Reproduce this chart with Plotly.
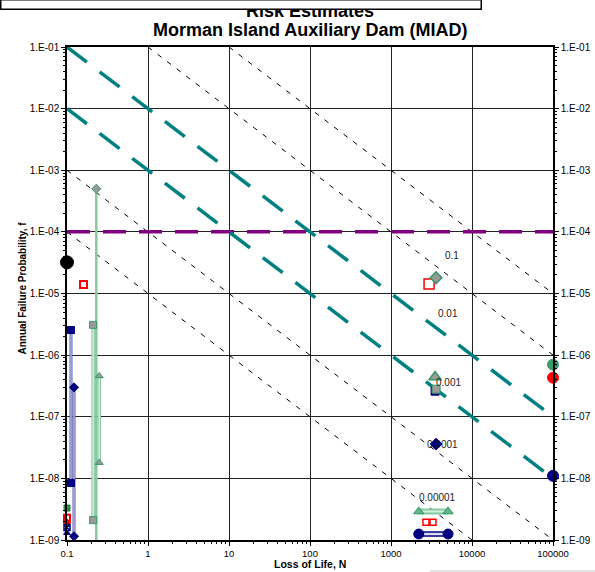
import math
import plotly.graph_objects as go

# ---------------- data ----------------
tick_vals_y = [1e-1, 1e-2, 1e-3, 1e-4, 1e-5, 1e-6, 1e-7, 1e-8, 1e-9]
tick_text_y = ["1.E-01", "1.E-02", "1.E-03", "1.E-04", "1.E-05", "1.E-06", "1.E-07", "1.E-08", "1.E-09"]
tick_vals_x = [0.1, 1, 10, 100, 1000, 10000, 100000]
tick_text_x = ["0.1", "1", "10", "100", "1000", "10000", "100000"]

# reference lines f*N = const
teal_products = [1e-2, 1e-3]
thin_products = [1.0, 0.1, 1e-4, 1e-5]
tolerable_f = 1e-4

# labels on lines
line_label_text = ["0.1", "0.01", "0.001", "0.0001", "0.00001"]
line_label_N = [5660, 5060, 5060, 4270, 3800]
line_label_f = [4.1e-5, 4.8e-6, 3.6e-7, 3.6e-8, 4.95e-9]

# left side ranges
navy_sq_N = [0.112, 0.112]
navy_sq_f = [2.55e-6, 8.4e-9]
navy_di_N = [0.122, 0.122]
navy_di_f = [3.0e-7, 1.15e-9]
green_sq_N = [0.21, 0.21]
green_sq_f = [3.1e-6, 2.1e-9]
green_tri_N = [0.25, 0.25]
green_tri_f = [4.6e-7, 1.8e-8]
green_long_N = [0.23, 0.23]
green_long_f = [5.0e-4, 8.0e-10]

black_N = [0.1]
black_f = [3.2e-5]
red_left_N = [0.16]
red_left_f = [1.4e-5]

small_green_N = [0.1]
small_green_f = [3.3e-9]
small_red_N = [0.1, 0.1]
small_red_f = [2.3e-9, 1.9e-9]
small_navy_N = [0.1, 0.1]
small_navy_f = [1.6e-9, 1.3e-9]

# middle cluster
mid_red_N = [2950]
mid_red_f = [1.42e-5]
mid_green_di_N = [3600]
mid_green_di_f = [1.8e-5]
mid_green_tri_N = [3500]
mid_green_tri_f = [4.4e-7]
mid_gray_sq_N = [3600]
mid_gray_sq_f = [2.8e-7]
mid_navy_sq_N = [3500]
mid_navy_sq_f = [2.6e-7]
mid_navy_di_N = [3600]
mid_navy_di_f = [3.6e-8]
bar_green_N = [2200, 5060]
bar_green_f = [2.9e-9, 2.9e-9]
bar_red_N = [2700, 3300]
bar_red_f = [1.95e-9, 1.95e-9]
bar_navy_N = [2200, 5060]
bar_navy_f = [1.25e-9, 1.25e-9]

# right side
right_N = [100000, 100000, 100000]
right_f = [7.0e-7, 4.3e-7, 1.1e-8]
right_colors = ["#3c9a6a", "#ff0000", "#000080"]

# ---------------- figure ----------------
FONT = "Liberation Sans, Arial, sans-serif"
NAVY = "#000080"
GREEN_D = "#339966"
GREEN_L = "#86c9a4"
GRAY = "#9a9a9a"
RED = "#ff0000"

fig = go.Figure()
Nmin, Nmax, fmin, fmax = 0.1, 1e5, 1e-9, 1e-1


def ref_line(C, color, width, dash):
    n0 = max(Nmin, C / fmax)
    n1 = min(Nmax, C / fmin)
    fig.add_trace(go.Scatter(x=[n0, n1], y=[C / n0, C / n1], mode="lines",
                             line=dict(color=color, width=width, dash=dash),
                             hoverinfo="skip", showlegend=False))


for C in thin_products:
    ref_line(C, "black", 1, "5px,7px")

fig.add_trace(go.Scatter(x=[Nmin, Nmax], y=[tolerable_f, tolerable_f], mode="lines",
                         line=dict(color="#800080", width=3.5, dash="23px,13px"),
                         hoverinfo="skip", showlegend=False))

for C in teal_products:
    ref_line(C, "#008080", 3.5, "25px,16px")


def bar(xs, ys, color, width, inner="white", inner_w=1):
    fig.add_trace(go.Scatter(x=xs, y=ys, mode="lines", line=dict(color=color, width=width),
                             hoverinfo="skip", showlegend=False))
    fig.add_trace(go.Scatter(x=xs, y=ys, mode="lines", line=dict(color=inner, width=inner_w),
                             hoverinfo="skip", showlegend=False))


def pts(xs, ys, symbol, size, fill, line_color, line_w=1, clip=False):
    fig.add_trace(go.Scatter(x=xs, y=ys, mode="markers", cliponaxis=clip,
                             marker=dict(symbol=symbol, size=size, color=fill,
                                         line=dict(color=line_color, width=line_w)),
                             showlegend=False))


# left ranges
bar(green_long_N, green_long_f, GREEN_L, 2.5, GREEN_L, 0.1)
bar(navy_sq_N, navy_sq_f, "#5a5ab0", 3, "#dcdcf4", 1)
bar(navy_di_N, navy_di_f, "#5a5ab0", 3, "#dcdcf4", 1)
bar(green_sq_N, green_sq_f, GREEN_L, 3.5, "#e6f5ec", 1.2)
bar(green_tri_N, green_tri_f, GREEN_L, 3.5, "#e6f5ec", 1.2)

pts(navy_sq_N, navy_sq_f, "square", 7, NAVY, NAVY)
pts(navy_di_N, navy_di_f, "diamond", 7, NAVY, NAVY)
pts(green_sq_N, green_sq_f, "square", 7, GRAY, GREEN_D)
pts(green_tri_N, green_tri_f, "triangle-up", 7, GRAY, GREEN_D)
pts([green_long_N[0]], [green_long_f[0]], "diamond", 7, GRAY, GREEN_D)

pts(black_N, black_f, "circle", 13, "black", "black")
pts(red_left_N, red_left_f, "square-open", 7, RED, RED, 2)

pts(small_green_N, small_green_f, "square-x", 6, "#2e9a4e", "#1e7a3e")
pts(small_red_N[:1], small_red_f[:1], "square-open", 6, RED, RED, 2)
pts(small_red_N[1:], small_red_f[1:], "diamond", 6, RED, RED)
pts(small_navy_N[:1], small_navy_f[:1], "square-x-open", 6, NAVY, NAVY, 1.5)
pts(small_navy_N[1:], small_navy_f[1:], "triangle-up", 6, NAVY, NAVY)

# middle cluster
pts(mid_red_N, mid_red_f, "square-open", 10, RED, RED, 1.5)
pts(mid_green_di_N, mid_green_di_f, "diamond", 9, GRAY, GREEN_D, 1.5)
pts(mid_navy_sq_N, mid_navy_sq_f, "square", 8, NAVY, NAVY)
pts(mid_gray_sq_N, mid_gray_sq_f, "square", 8, GRAY, GREEN_D)
pts(mid_green_tri_N, mid_green_tri_f, "triangle-up", 11, GRAY, GREEN_D, 1.5)
pts(mid_navy_di_N, mid_navy_di_f, "diamond", 9, NAVY, NAVY)

bar(bar_green_N, bar_green_f, GREEN_L, 6, "#cfeedd", 2)
pts(bar_green_N, bar_green_f, "triangle-up", 9, "#5fb488", GREEN_D)
pts(bar_red_N, bar_red_f, "square-open", 6, RED, RED, 1.5)
bar(bar_navy_N, bar_navy_f, "#3a3a9a", 6, "#dcdcf8", 2)
pts(bar_navy_N, bar_navy_f, "circle", 10, NAVY, NAVY)

# right side
for xx, yy, c in zip(right_N, right_f, right_colors):
    pts([xx], [yy], "circle", 11, c, c)

# line labels (annotation coordinates on log axes are log10 values)
for t, xx, yy in zip(line_label_text, line_label_N, line_label_f):
    fig.add_annotation(x=math.log10(xx), y=math.log10(yy), xref="x", yref="y", text=t,
                       showarrow=False, font=dict(family=FONT, size=10, color="#222"))

# dummy for right axis
fig.add_trace(go.Scatter(x=[1], y=[1e-5], yaxis="y2", mode="markers",
                         marker=dict(opacity=0), hoverinfo="skip", showlegend=False))

yfont = dict(family=FONT, size=10, color="black")
xfont = dict(family=FONT, size=9.5, color="black")
minor = dict(ticks="outside", ticklen=2, tickcolor="black", dtick="D1", showgrid=False)

fig.update_layout(
    width=595, height=572,
    margin=dict(l=67, r=42, t=47, b=32, autoexpand=False),
    paper_bgcolor="white", plot_bgcolor="white",
    font=dict(family=FONT),
    xaxis=dict(type="log", range=[-1, 5], tickvals=tick_vals_x, ticktext=tick_text_x,
               showgrid=True, gridcolor="#222", gridwidth=1,
               showline=True, linecolor="black", linewidth=1.5, mirror=True,
               ticks="outside", ticklen=4, tickcolor="black", tickfont=xfont,
               minor=minor, zeroline=False),
    yaxis=dict(type="log", range=[-9, -1], tickvals=tick_vals_y, ticktext=tick_text_y,
               showgrid=True, gridcolor="#222", gridwidth=1,
               showline=True, linecolor="black", linewidth=1.5,
               ticks="outside", ticklen=4, tickcolor="black", tickfont=yfont,
               minor=minor, zeroline=False),
    yaxis2=dict(type="log", range=[-9, -1], overlaying="y", side="right",
                tickvals=tick_vals_y, ticktext=tick_text_y, showgrid=False,
                showline=True, linecolor="black", linewidth=1.5,
                ticks="outside", ticklen=4, tickcolor="black", tickfont=yfont,
                minor=minor, zeroline=False),
)

# titles
fig.add_annotation(xref="paper", yref="paper", x=0.5, y=(540 - 11) / 493, yanchor="middle",
                   text="<b>Risk Estimates</b>", showarrow=False,
                   font=dict(family=FONT, size=18, color="black"))
fig.add_annotation(xref="paper", yref="paper", x=0.5, y=(540 - 30) / 493, yanchor="middle",
                   text="<b>Morman Island Auxiliary Dam (MIAD)</b>", showarrow=False,
                   font=dict(family=FONT, size=18, color="black"))
# box overlapping the top of the title
fig.add_annotation(xref="paper", yref="paper", x=(0 - 67) / 486, y=(540 + 1) / 493,
                   xanchor="left", yanchor="top", text=" ", showarrow=False,
                   width=479, height=8, borderpad=0, bgcolor="white",
                   bordercolor="black", borderwidth=1.5, font=dict(size=6))
fig.add_annotation(xref="paper", yref="paper", x=0.5, y=(540 - 564) / 493, yanchor="middle",
                   text="<b>Loss of Life, N</b>", showarrow=False,
                   font=dict(family=FONT, size=10.5, color="black"))
fig.add_annotation(xref="paper", yref="paper", x=(14 - 67) / 486, y=(540 - 288) / 493,
                   textangle=-90, text="<b>Annual Failure Probability, f</b>", showarrow=False,
                   font=dict(family=FONT, size=10, color="black"))

fig.add_shape(type="line", xref="paper", yref="paper", x0=(430 - 67) / 486, x1=(595 - 67) / 486,
              y0=(540 - 571) / 493, y1=(540 - 571) / 493, line=dict(color="#c8c8c8", width=1))

fig.write_html("out.html", config={"displayModeBar": False},
               post_script="document.body.style.margin='0';")
